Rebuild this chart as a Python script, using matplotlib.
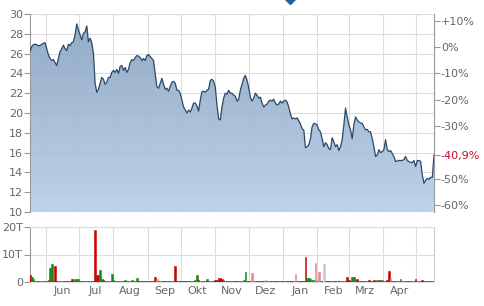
import numpy as np
import pandas as pd
import matplotlib
matplotlib.use('Agg')
import matplotlib.pyplot as plt
import matplotlib.dates as mdates
from matplotlib.colors import LinearSegmentedColormap

# Closing prices (EUR), roughly one per trading day
prices = [
    26.2, 26.7, 26.9, 26.95, 26.9, 26.8, 26.8, 26.95, 27.05, 27.1,
    26.5, 25.9, 25.5, 25.3, 25.4, 25.1, 24.8, 25.5, 26.2, 26.5,
    26.85, 26.5, 26.3, 26.95, 26.8, 27.1, 27.2, 27.9, 29.0, 28.4,
    27.9, 27.4, 28.05, 28.2, 28.8, 27.2, 27.55, 27.1, 26.0, 23.0,
    22.1, 22.4, 23.0, 23.6, 23.4, 22.9, 23.1, 23.6, 23.6, 24.1,
    24.3, 24.1, 24.4, 24.0, 24.7, 24.8, 24.3, 24.6, 24.1, 24.4,
    25.1, 25.4, 25.3, 25.6, 25.8, 25.75, 25.6, 25.3, 25.5, 25.3,
    25.8, 25.9, 25.7, 25.5, 25.3, 24.0, 22.65, 22.5, 23.0, 23.5,
    22.9, 22.4,
    22.5, 22.2, 22.7, 23.1, 23.2, 23.0, 22.3, 22.3, 22.0, 21.3,
    20.6, 20.3, 20.0, 20.3, 20.1, 20.5, 21.0, 21.0, 20.7, 20.2,
    21.3, 22.15, 22.2, 22.1, 22.3, 22.4, 23.3, 23.4, 23.2, 22.6,
    20.8, 19.4, 19.3, 20.6, 21.5, 22.0, 21.9, 22.3, 22.0, 22.0,
    21.8, 21.7, 21.2, 21.4, 22.3, 22.9, 23.5, 23.8, 23.3, 22.6,
    21.6, 21.2, 21.5, 22.0, 21.8, 21.5, 21.6, 21.0, 20.6, 20.8,
    20.9, 21.2, 21.3, 21.2, 21.4, 21.0, 20.8, 20.9, 21.2, 21.0,
    21.2, 21.3, 21.1, 20.6, 19.9, 19.4, 19.5, 19.4, 19.5, 19.2,
    18.9,
    18.4, 18.3, 16.5, 16.6, 16.8, 17.4, 18.6, 18.95, 18.9, 18.8,
    18.3, 18.1, 17.4, 16.6, 17.0, 16.8, 16.4, 16.3, 17.5, 17.1,
    16.6, 16.8, 16.2, 16.6, 17.3, 18.8, 20.5, 19.6, 18.8, 18.3,
    17.4, 18.8, 19.6, 19.3, 19.1, 19.0, 18.95, 18.6, 18.3, 18.35,
    18.1, 18.1, 17.4, 16.6, 15.6, 15.75, 16.3, 16.0, 16.1, 16.3,
    17.3, 16.3, 16.1, 16.2, 15.9, 15.6, 15.1, 15.15, 15.2, 15.2,
    15.2, 15.3, 15.6, 15.2, 15.1, 15.0, 15.0, 15.2, 14.6, 15.2,
    15.2, 15.1, 13.7, 12.9, 13.2, 13.4, 13.3, 13.5, 13.5, 15.76,
]

# Daily volume in thousands (T)
volume = [
    2.5, 1.8, 1.2, 0.5, 0.3, 0.3, 0.4, 0.3, 0.3, 0.3, 0.5, 0.8, 5.0, 6.5, 0.6, 6.0, 0.5, 0.4, 0.3, 0.3,
    0.3, 0.3, 0.5, 0.3, 0.4, 1.0, 0.5, 1.0, 1.1, 1.2, 0.3, 0.3, 0.3, 0.4, 0.3, 0.3, 0.3, 0.4, 0.5, 19.0,
    2.6, 2.4, 4.4, 1.0, 0.8, 0.5, 0.4, 0.3, 0.4, 3.0, 0.6, 0.4, 0.3, 0.5, 0.4, 0.3, 0.4, 0.6, 0.3, 0.5,
    0.4, 0.6, 0.3, 0.5, 1.5, 0.4, 0.3, 0.4, 0.3, 0.3, 0.3, 0.3, 0.3, 0.3, 0.3, 2.0, 1.0, 0.3, 0.3, 0.3,
    0.3, 0.3, 0.3, 0.3, 0.3, 0.3, 0.4, 6.0, 0.3, 0.3, 0.3, 0.3, 0.3, 0.3, 0.4, 0.3, 0.5, 0.3, 0.4, 0.6,
    2.5, 0.6, 0.4, 0.3, 0.3, 0.3, 1.0, 0.3, 0.4, 0.3, 0.5, 0.6, 0.9, 1.3, 1.6, 1.2, 0.6, 0.5, 0.4, 0.3,
    0.3, 0.3, 0.3, 0.3, 0.3, 0.4, 0.4, 0.5, 0.6, 3.5, 0.5, 0.3, 0.3, 3.2, 0.3, 0.3, 0.3, 0.3, 0.3, 0.3,
    0.3, 0.7, 0.4, 0.3, 0.3, 0.3, 0.3, 0.3, 0.3, 0.3, 0.3, 0.3, 0.3, 0.3, 0.3, 0.3, 0.3, 0.3, 0.4, 2.8,
    0.3, 0.3, 0.3, 0.3, 0.4, 9.0, 1.6, 1.4, 1.0, 0.8, 0.6, 6.8, 0.5, 3.5, 0.5, 0.4, 6.7, 0.4, 0.3, 0.3,
    0.3, 0.3, 0.3, 0.3, 0.3, 0.3, 0.3, 0.4, 0.3, 0.5, 2.0, 0.6, 0.5, 1.8, 1.8, 0.9, 1.0, 0.5, 0.4, 0.3,
    0.3, 0.3, 0.4, 0.6, 0.3, 0.4, 0.6, 0.5, 0.6, 0.7, 0.8, 0.6, 0.5, 0.4, 0.6, 4.0, 1.5, 0.4, 0.3, 0.5,
    0.3, 0.4, 1.0, 0.3, 0.3, 0.4, 0.3, 0.3, 0.4, 0.3, 0.3, 1.0, 0.3, 0.3, 0.3, 0.6, 0.5, 0.4, 0.3, 0.3,
    0.3, 0.3, 0.3,
]

# bars whose colour differs from the plain up/down rule
green_days = [1, 2, 12, 13, 27, 28, 29, 42, 43, 49, 64, 100, 106, 129, 166, 167, 193, 194, 222]
red_days = [0, 15, 25, 39, 40, 41, 75, 87, 112, 113, 114, 115, 165, 190, 196, 215, 231]
light_red_days = [76, 133, 141, 159, 171, 173, 216]
grey_days = [176]

month_labels = ['Jun', 'Jul', 'Aug', 'Sep', 'Okt', 'Nov', 'Dez', 'Jan', 'Feb', 'Mrz', 'Apr']
price_ticks = [10, 12, 14, 16, 18, 20, 22, 24, 26, 28, 30]
pct_ticks = [10, 0, -10, -20, -30, -50, -60]
last_change = -40.9
event_day = 156

dates = pd.date_range('2022-05-18', '2023-05-17', periods=len(prices))
month_starts = pd.date_range('2022-06-01', '2023-05-01', freq='MS')
month_mids = month_starts[:-1] + pd.Timedelta(days=15)
base_price = prices[-1] / (1 + last_change / 100)

x = mdates.date2num(dates)

fig = plt.figure(figsize=(4.84, 3.06), dpi=100)
fig.patch.set_facecolor('white')

W, H = 484, 306
ax = fig.add_axes([30 / W, 1 - 212 / H, 404 / W, 198 / H])
axv = fig.add_axes([30 / W, 1 - 282 / H, 404 / W, 55 / H])

label_col = '#666666'
spine_col = '#999999'
grid_col = '#dcdcdc'

# --- price panel ---
ax.set_xlim(x[0], x[-1])
ax.set_ylim(10, 30)

poly = ax.fill_between(x, prices, 10, color='none', lw=0)
cmap = LinearSegmentedColormap.from_list('fill', ['#b6cfe9', '#86a0bd'])
grad = np.linspace(0, 1, 256).reshape(-1, 1)
im = ax.imshow(grad, aspect='auto', cmap=cmap, origin='lower',
               extent=[x[0], x[-1], 10, 30], zorder=1, alpha=0.9)
im.set_clip_path(poly.get_paths()[0], transform=ax.transData)
ax.plot(x, prices, color='#2b4768', lw=0.9, zorder=3)

ax.set_yticks(price_ticks)
ax.set_xticks(mdates.date2num(month_starts))
ax.tick_params(axis='x', length=0, labelbottom=False)
ax.tick_params(axis='y', length=4, color=spine_col, labelcolor=label_col, labelsize=8, pad=1)
ax.grid(True, color=grid_col, lw=0.8)
ax.set_axisbelow(True)
for s in ['top', 'bottom', 'right']:
    ax.spines[s].set_visible(False)
ax.spines['left'].set_color(spine_col)

sec = ax.secondary_yaxis('right', functions=(lambda p: (p / base_price - 1) * 100,
                                             lambda q: base_price * (1 + q / 100)))
sec_ticks = pct_ticks + [last_change]
sec.set_yticks(sec_ticks)
sec.set_yticklabels([('+%d%%' % t) if t > 0 else ('%d%%' % t) for t in pct_ticks]
                    + [('%.1f%%' % last_change).replace('.', ',')])
sec.tick_params(length=4, color=spine_col, labelcolor=label_col, labelsize=8, pad=1)
sec.spines['right'].set_color(spine_col)
sec.get_yticklabels()[-1].set_color('#c8102e')

ax.plot(x[event_day], 31.5, marker='D', ms=5.5, color='#1f5fa8', clip_on=False, zorder=5)

# --- volume panel ---
colors = []
for i in range(len(volume)):
    up = i == 0 or prices[i] >= prices[i - 1]
    colors.append('#1e8c1e' if up else '#cc0000')
for i in green_days:
    colors[i] = '#138a13'
for i in red_days:
    colors[i] = '#cc0000'
for i in light_red_days:
    colors[i] = '#e08a8a'
for i in grey_days:
    colors[i] = '#c8c8c8'

axv.bar(x, volume, width=1.5, color=colors, edgecolor=colors, lw=0.4, zorder=3)
axv.set_xlim(x[0], x[-1])
axv.set_ylim(0, 20)
axv.set_yticks([0, 10, 20])
axv.set_yticklabels(['0', '10T', '20T'])
axv.set_xticks(mdates.date2num(month_starts))
axv.set_xticklabels([])
axv.set_xticks(mdates.date2num(month_mids), minor=True)
axv.set_xticklabels(month_labels, minor=True)
axv.tick_params(axis='x', which='both', length=0, labelcolor=label_col, labelsize=8, pad=3)
axv.tick_params(axis='y', length=4, color=spine_col, labelcolor=label_col, labelsize=8, pad=1)
axv.grid(True, which='major', color=grid_col, lw=0.8)
axv.set_axisbelow(True)
axv.spines['left'].set_color(spine_col)
axv.spines['bottom'].set_color('#dddddd')
axv.spines['top'].set_color('#dddddd')
axv.spines['right'].set_color('#cccccc')

fig.savefig('out.png', dpi=100, facecolor=fig.get_facecolor())
